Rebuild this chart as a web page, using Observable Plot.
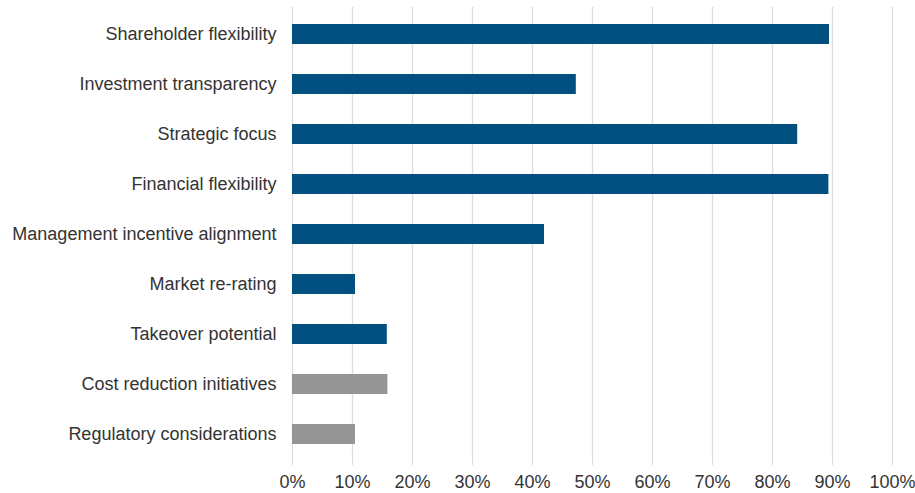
<!DOCTYPE html>
<html>
<head>
<meta charset="utf-8">
<script src="https://cdn.jsdelivr.net/npm/d3@7"></script>
<script src="https://cdn.jsdelivr.net/npm/@observablehq/plot@0.6"></script>
<style>
  html, body { margin: 0; padding: 0; background: #fff; }
  #chart { width: 915px; height: 493px; }
</style>
</head>
<body>
<div id="chart"></div>
<script>
const categories = [
  "Shareholder flexibility",
  "Investment transparency",
  "Strategic focus",
  "Financial flexibility",
  "Management incentive alignment",
  "Market re-rating",
  "Takeover potential",
  "Cost reduction initiatives",
  "Regulatory considerations"
];
const values = [0.895, 0.473, 0.842, 0.894, 0.42, 0.105, 0.158, 0.159, 0.105];
const groups = ["main", "main", "main", "main", "main", "main", "main", "other", "other"];
const xTicks = [0, 0.1, 0.2, 0.3, 0.4, 0.5, 0.6, 0.7, 0.8, 0.9, 1.0];

const data = categories.map((c, i) => ({ category: c, value: values[i], group: groups[i] }));

const chart = Plot.plot({
  width: 915,
  height: 493,
  marginLeft: 292,
  marginRight: 23,
  marginTop: 7,
  marginBottom: 32,
  style: { fontFamily: "'Liberation Sans', Arial, sans-serif", fontSize: "18px", color: "#333", background: "#fff" },
  x: { domain: [0, 1], ticks: xTicks, tickFormat: d3.format(".0%"), label: null },
  y: { domain: categories, paddingInner: 0.6, paddingOuter: 0.3, label: null },
  color: { domain: ["main", "other"], range: ["#02507f", "#959595"] },
  marks: [
    Plot.gridX(xTicks, { stroke: "#dcdcdc", strokeOpacity: 1, strokeWidth: 1.3 }),
    Plot.axisX({ ticks: xTicks, tickFormat: d3.format(".0%"), tickSize: 4, tickPadding: 10, stroke: "#dcdcdc", strokeOpacity: 1, fill: "#333", fontSize: 18, label: null }),
    Plot.axisY({ tickSize: 0, tickPadding: 16, fill: "#333", fontSize: 18, label: null }),
    Plot.barX(data, { y: "category", x: "value", fill: "group" })
  ]
});
document.getElementById("chart").appendChild(chart);
</script>
</body>
</html>
